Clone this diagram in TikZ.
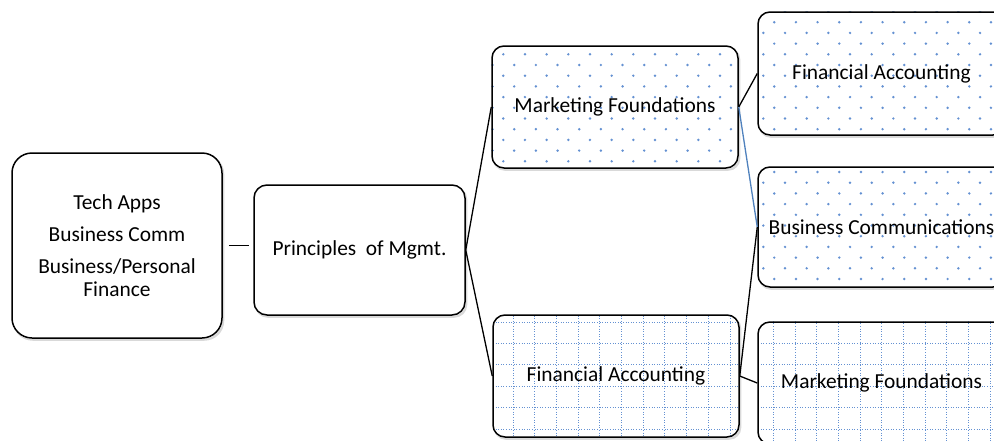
\documentclass[tikz,border=0pt]{standalone}
\usepackage{fontspec}
\setmainfont{Carlito}
\usetikzlibrary{shadows,backgrounds}
\definecolor{patblue}{RGB}{100,145,210}
\definecolor{linkblue}{RGB}{79,129,189}
\begin{document}
\begin{tikzpicture}[x=1pt,y=-1pt,
  box/.style={draw=black, line width=1.5pt, inner sep=2pt, align=center,
    font=\fontsize{21.4}{23}\selectfont},
  boxbg/.style={fill=white, drop shadow={shadow xshift=1.5pt, shadow yshift=-2pt, opacity=0.3}},
  patdot/.style={fill=patblue},
  patline/.style={draw=patblue, line width=1pt, dash pattern=on 1pt off 1.6pt},
  link/.style={draw=black, line width=1.3pt},
  bluelink/.style={draw=linkblue, line width=1.3pt}]
\useasboundingbox (0,0) rectangle (994,440);
\clip (0,0) rectangle (994,440);

\node[box, rounded corners=20pt, minimum width=210pt, minimum height=185pt] (b1) at (117,245.5)
  {Tech Apps\\[9pt]Business Comm\\[9pt]Business/Personal\\Finance};
\node[box, rounded corners=13pt, minimum width=211pt, minimum height=130pt] (pm) at (359.5,250)
  {Principles\ \ of Mgmt.};
\node[box, rounded corners=12pt, minimum width=246pt, minimum height=122pt] (mf) at (615,107)
  {Marketing Foundations};
\node[box, rounded corners=12pt, minimum width=246pt, minimum height=122pt] (fa) at (616,376)
  {Financial Accounting};
\node[box, rounded corners=12pt, minimum width=247pt, minimum height=123pt] (fa1) at (881.5,73.5)
  {Financial Accounting};
\node[box, rounded corners=12pt, minimum width=247pt, minimum height=120pt] (bc) at (881.5,227)
  {Business Communications};
\node[box, rounded corners=12pt, minimum width=247pt, minimum height=122pt] (mf2) at (881.5,383)
  {Marketing Foundations};

\begin{pgfonlayer}{background}
  \path[boxbg, rounded corners=20pt] (b1.south west) rectangle (b1.north east);
  \path[boxbg, rounded corners=13pt] (pm.south west) rectangle (pm.north east);
  \path[boxbg, rounded corners=12pt] (mf.south west) rectangle (mf.north east);
  \path[boxbg, rounded corners=12pt] (fa.south west) rectangle (fa.north east);
  \path[boxbg, rounded corners=12pt] (fa1.south west) rectangle (fa1.north east);
  \path[boxbg, rounded corners=12pt] (bc.south west) rectangle (bc.north east);
  \path[boxbg, rounded corners=12pt] (mf2.south west) rectangle (mf2.north east);
  % dotted fill
  \begin{scope}
    \clip[rounded corners=12pt] (mf.south west) rectangle (mf.north east)
      (fa1.south west) rectangle (fa1.north east)
      (bc.south west) rectangle (bc.north east);
    \foreach \j in {0,...,28}{%
      \pgfmathsetmacro\yy{0.8+10.7*\j}%
      \pgfmathsetmacro\xs{mod(\j,2)==1 ? 503.3 : 514.2}%
      \foreach \k in {-1,...,23}{%
        \pgfmathsetmacro\xx{\xs+21.67*\k}%
        \fill[patdot] (\xx,\yy) circle[radius=1.35pt];}}
  \end{scope}
  % grid fill
  \begin{scope}
    \clip[rounded corners=12pt] (fa.south west) rectangle (fa.north east)
      (mf2.south west) rectangle (mf2.north east);
    \foreach \k in {-1,...,23}{%
      \pgfmathsetmacro\xx{513.3+21.67*\k}%
      \draw[patline] (\xx,300) -- (\xx,445);}
    \foreach \j in {-1,...,6}{%
      \pgfmathsetmacro\yy{322+21.4*\j}%
      \draw[patline] (480,\yy) -- (1000,\yy);}
  \end{scope}
\end{pgfonlayer}

\draw[link] ([xshift=6pt]b1.east) -- ([xshift=-4pt]b1.east -| pm.west);
\draw[link] (pm.east) -- (mf.west);
\draw[link] (pm.east) -- (fa.west);
\draw[link] (mf.east) -- (fa1.west);
\draw[bluelink] (mf.east) -- (bc.west);
\draw[link] (fa.east) -- (bc.west);
\draw[link] (fa.east) -- (mf2.west);
\end{tikzpicture}
\end{document}
